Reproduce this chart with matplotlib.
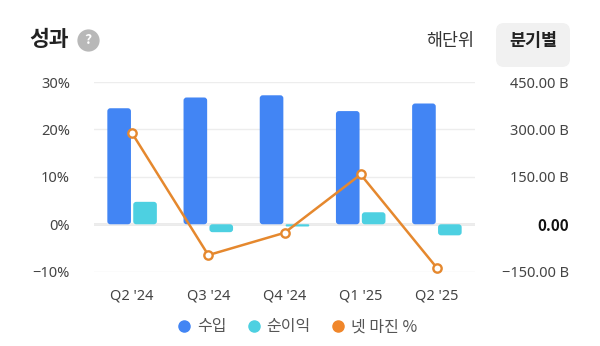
import matplotlib
matplotlib.use("Agg")
import matplotlib.pyplot as plt
from matplotlib.patches import FancyBboxPatch
from matplotlib.lines import Line2D
import numpy as np

quarters = ["Q2 '24", "Q3 '24", "Q4 '24", "Q1 '25", "Q2 '25"]
revenue_b = [367, 401, 408, 358, 382]
net_income_b = [71, -25, -7, 38, -35]
net_margin_pct = [19.2, -6.5, -1.8, 10.5, -9.2]
pct_ticks = [-10, 0, 10, 20, 30]
b_ticks = [-150, 0, 150, 300, 450]
legend_labels = ["수입", "순이익", "넷 마진 %"]

BLUE = "#4285F4"
CYAN = "#4DD0E1"
ORANGE = "#E5882E"
ORANGE_DOT = "#F0862A"
TXT = "#444444"
LATIN = ['Noto Sans', 'DejaVu Sans']

plt.rcParams['font.family'] = ['Noto Sans CJK KR', 'DejaVu Sans']

W, H = 600, 346
fig = plt.figure(figsize=(W / 100, H / 100), dpi=100)
left, right, top, bottom = 94, 475, 82, 271.7
ax = fig.add_axes([left / W, 1 - bottom / H, (right - left) / W, (bottom - top) / H])
axp = ax.twinx()

x = np.arange(len(quarters))
w = 0.31
off = 0.17
rev_bars = ax.bar(x - off, revenue_b, w, color=BLUE, zorder=2)
ni_bars = ax.bar(x + off, net_income_b, w, color=CYAN, zorder=2)
ax.set_xlim(-0.5, len(quarters) - 0.5)
ax.set_ylim(b_ticks[0], b_ticks[-1])

# rounded corners
px_per_x = (right - left) / (len(quarters))
px_per_y = (bottom - top) / (b_ticks[-1] - b_ticks[0])
rx = 3 / px_per_x
aspect = (1 / px_per_y) / (1 / px_per_x)
for bars in (rev_bars, ni_bars):
    for p in bars:
        x0, y0, bw, bh = p.get_x(), p.get_y(), p.get_width(), p.get_height()
        yb = min(y0, y0 + bh)
        hh = abs(bh)
        r = min(rx, hh / aspect / 2, bw / 2)
        fb = FancyBboxPatch((x0, yb), bw, hh,
                            boxstyle=f"round,pad=0,rounding_size={r}",
                            mutation_aspect=aspect, fc=p.get_facecolor(),
                            ec='none', zorder=2)
        p.remove()
        ax.add_patch(fb)

ax.grid(axis='y', color='#ededed', lw=1, zorder=0)
ax.axhline(0, color='#9e9e9e', lw=1, zorder=1)
for s in ax.spines.values():
    s.set_visible(False)

ax.set_yticks(b_ticks)
blabels = []
for v in b_ticks:
    s = "0.00" if v == 0 else f"{v:.2f} B".replace("-", "\u2212")
    blabels.append(s)
ax.set_yticklabels(blabels)
ax.yaxis.tick_right()
ax.tick_params(axis='y', which='both', left=False, right=False, labelleft=False,
               labelright=True, length=0, pad=(569 - right) * 0.72,
               labelsize=10.5, labelcolor=TXT)
for lab, v in zip(ax.get_yticklabels(), b_ticks):
    lab.set_horizontalalignment('right')
    if v == 0:
        lab.set_family(['Noto Sans CJK KR', 'DejaVu Sans'])
        lab.set_fontweight('bold')
        lab.set_fontsize(11)
        lab.set_color('#111111')
    else:
        lab.set_family(LATIN)

ax.set_xticks(x)
ax.set_xticklabels(quarters)
ax.tick_params(axis='x', length=0, pad=12, labelsize=10.5, labelcolor=TXT)
for lab in ax.get_xticklabels():
    lab.set_family(LATIN)

axp.yaxis.tick_left()
axp.set_ylim(pct_ticks[0], pct_ticks[-1])
axp.set_yticks(pct_ticks)
axp.set_yticklabels([f"{v}%".replace("-", "\u2212") for v in pct_ticks])
axp.tick_params(axis='y', length=0, left=False, right=False, labelleft=True,
                labelright=False, pad=(left - 70) * 0.72, labelsize=10.5, labelcolor=TXT)
for lab in axp.get_yticklabels():
    lab.set_family(LATIN)
for s in axp.spines.values():
    s.set_visible(False)
axp.plot(x, net_margin_pct, color=ORANGE, lw=1.8, marker='o', ms=6,
         mfc='white', mec=ORANGE, mew=1.7, clip_on=False, zorder=5)

# header
fig.text(29 / W, 1 - 40 / H, "성과", fontsize=15.5, fontweight='bold', va='center', color='#222222')
fig.add_artist(Line2D([88 / W], [1 - 40 / H], marker='o', ms=15, color='#b8b8b8',
                      transform=fig.transFigure))
fig.text(88 / W, 1 - 40.5 / H, "?", fontsize=10, fontweight='bold', color='white',
         ha='center', va='center')
fig.add_artist(FancyBboxPatch((496 / 100, (H - 67) / 100), 0.74, 0.44,
                              boxstyle='round,pad=0,rounding_size=0.08',
                              transform=fig.dpi_scale_trans, fc='#f1f1f1', ec='none'))
fig.text(450 / W, 1 - 41 / H, "해단위", fontsize=12.5, color='#333333', ha='center', va='center')
fig.text(533 / W, 1 - 41 / H, "분기별", fontsize=12.5, fontweight='bold', color='#222222',
         ha='center', va='center')

handles = [Line2D([], [], marker='o', ls='', color=c, ms=8) for c in (BLUE, CYAN, ORANGE_DOT)]
fig.legend(handles, legend_labels, loc='center', bbox_to_anchor=(0.488, 1 - 327 / H),
           ncol=3, frameon=False, handletextpad=-0.2, columnspacing=0.7, fontsize=11.5,
           labelcolor='#555555')

fig.savefig("out.png", dpi=100)
